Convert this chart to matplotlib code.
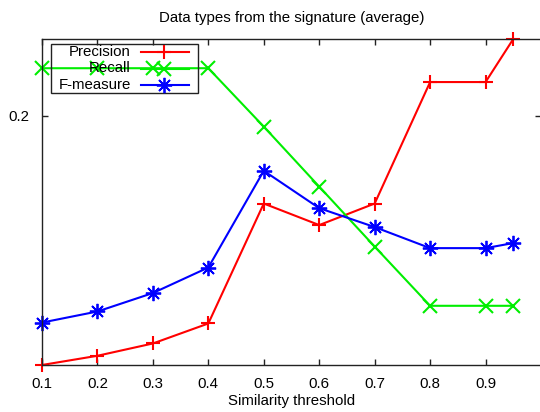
import matplotlib
matplotlib.use("Agg")
import matplotlib.pyplot as plt
from matplotlib.lines import Line2D
from matplotlib.patches import Rectangle

plt.rcParams['font.family'] = ['Liberation Sans', 'DejaVu Sans']

thresholds = [0.1, 0.2, 0.3, 0.4, 0.5, 0.6, 0.7, 0.8, 0.9, 0.95]
precision = [0.038, 0.044, 0.052, 0.065, 0.143, 0.129, 0.143, 0.222, 0.222, 0.250]
recall    = [0.231, 0.231, 0.231, 0.231, 0.193, 0.154, 0.115, 0.0765, 0.0765, 0.0765]
fmeasure  = [0.0656, 0.0728, 0.0848, 0.1014, 0.1643, 0.1400, 0.1277, 0.1140, 0.1140, 0.1173]
series_names = ["Precision", "Recall", "F-measure"]
xtick_vals = [0.1, 0.2, 0.3, 0.4, 0.5, 0.6, 0.7, 0.8, 0.9]
ytick_vals = [0.2]

W, H = 540, 412
fig = plt.figure(figsize=(W / 100, H / 100), dpi=100)
L, R, T, B = 42, 541, 39, 365
ax = fig.add_axes([L / W, (H - B) / H, (R - L) / W, (B - T) / H])

FS = 10.8
RED, GREEN, BLUE = '#ff0000', '#00ee00', '#0000ff'
star = (8, 2, 0)
styles = [dict(color=RED, marker='+', ms=10, mew=1.5),
          dict(color=GREEN, marker='x', ms=10, mew=1.5),
          dict(color=BLUE, marker=star, ms=11, mew=1.3)]

for vals, st in zip([precision, recall, fmeasure], styles):
    ax.plot(thresholds, vals, lw=1.5, clip_on=False, **st)

ax.set_xlim(0.1, 1.0)
ax.set_ylim(0.038, 0.25)
ax.set_xticks(xtick_vals)
ax.set_xticklabels([f"{v:.1f}" for v in xtick_vals])
ax.set_yticks(ytick_vals)
ax.set_yticklabels([f"{v:.1f}" for v in ytick_vals])
ax.tick_params(direction='in', length=4, width=1, top=True, right=True,
               labelsize=FS, colors='#222222', labelcolor='black')
ax.tick_params(axis='x', pad=9)
ax.tick_params(axis='y', pad=9)
for s in ax.spines.values():
    s.set_color('#222222')
    s.set_linewidth(1)

ax.set_title("Data types from the signature (average)", fontsize=FS, pad=12)
ax.set_xlabel("Similarity threshold", fontsize=FS, labelpad=2)

# manual gnuplot-style legend (text right-aligned, sample on the right)
def fx(px):
    return px / W
def fy(py):
    return (H - py) / H

fig.add_artist(Rectangle((fx(51), fy(93)), fx(198) - fx(51), fy(44) - fy(93),
                         transform=fig.transFigure, fill=False,
                         edgecolor='#222222', lw=1, zorder=1))
rows = [52.3, 68.5, 85]
for name, st, ry in zip(series_names, styles, rows):
    fig.text(fx(131), fy(ry), name, ha='right', va='center', fontsize=FS)
    fig.add_artist(Line2D([fx(141), fx(189)], [fy(ry), fy(ry)],
                          transform=fig.transFigure, color=st['color'], lw=1.5))
    fig.add_artist(Line2D([fx(164)], [fy(ry)], transform=fig.transFigure,
                          color=st['color'], marker=st['marker'], ms=st['ms'],
                          mew=st['mew'], lw=0))

fig.savefig("out.png", dpi=100)
